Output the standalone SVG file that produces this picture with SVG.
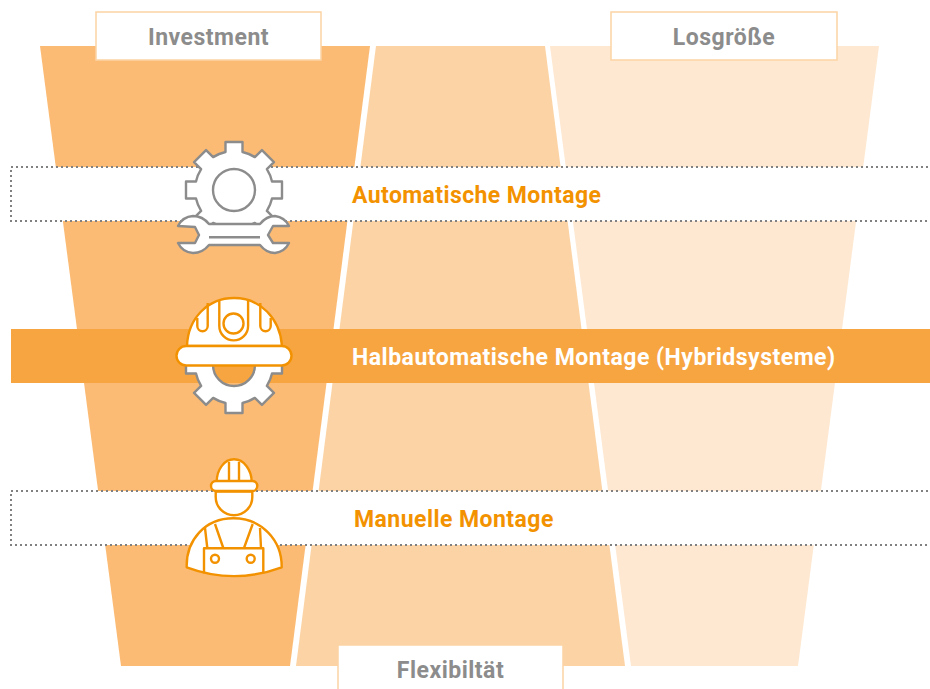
<svg xmlns="http://www.w3.org/2000/svg" width="930" height="689" viewBox="0 0 930 689">
<style>
.lab{font-family:"Roboto","Liberation Sans",sans-serif;font-weight:700;font-size:23px;letter-spacing:.5px}
.g{fill:#8c8c8c}
.o{fill:#f39200}
.w{fill:#fff}
.band{fill:#fff}
.dots{fill:none;stroke:#808080;stroke-width:2;stroke-dasharray:2 3}
.box{fill:#fff;stroke:#fcd3a4;stroke-width:1.500}
.gs{fill:#fff;stroke:#8c8c8c;stroke-width:2.400;stroke-linejoin:round}
.os{fill:#fff;stroke:#f39200;stroke-width:2.400;stroke-linejoin:round}
.ol{fill:none;stroke:#f39200;stroke-width:2.400;stroke-linejoin:round}
</style>
<defs>
<path id="gear" fill-rule="evenodd" d="M-8.500-38V-48H8.500V-38A38.900 38.900 0 0 1 20.860-32.880L27.930-39.950 39.950-27.930 32.880-20.860A38.900 38.900 0 0 1 38-8.500H48V8.500H38A38.900 38.900 0 0 1 32.880 20.860L39.950 27.930 27.930 39.950 20.860 32.880A38.900 38.900 0 0 1 8.500 38V48H-8.500V38A38.900 38.900 0 0 1-20.860 32.880L-27.930 39.950-39.950 27.930-32.880 20.860A38.900 38.900 0 0 1-38 8.500H-48V-8.500H-38A38.900 38.900 0 0 1-32.880-20.860L-39.950-27.930-27.930-39.950-20.860-32.880A38.900 38.900 0 0 1-8.500-38ZM-21 0A21 21 0 1 0 21 0 21 21 0 1 0-21 0Z"/>
</defs>
<g id="columns">
<polygon points="40,46 370,46 290,666 121,666" fill="#fbbb74"/>
<polygon points="376,46 545,46 625,666 296,666" fill="#fcd3a4"/>
<polygon points="550,46 879,46 798,666 631,666" fill="#fee8d1"/>
</g>
<g id="node-investment"><rect class="box" x="96" y="12" width="225" height="48"/><text class="lab g" x="208.500" y="45" text-anchor="middle">Investment</text></g>
<g id="node-losgroesse"><rect class="box" x="611" y="12" width="226" height="48"/><text class="lab g" x="724" y="45" text-anchor="middle">Losgröße</text></g>
<g id="node-flexibilitaet"><rect class="box" x="338" y="645" width="225" height="50"/><text class="lab g" x="450.500" y="678" text-anchor="middle">Flexibiltät</text></g>
<g id="node-automatisch">
<rect class="band" x="11" y="167" width="919" height="54"/>
<path class="dots" d="M928 167H11V221H928"/>
<text class="lab o" x="352" y="203" style="letter-spacing:.4px">Automatische Montage</text>
<use href="#gear" class="gs" x="234" y="190"/>
<path class="gs" d="M178 226A18 18 0 0 1 193 216C200 216 205 219 209 224H260C264 219 269 216 275 216A18 18 0 0 1 289 226H273L268 235 273 243H289A18 18 0 0 1 275 253C269 253 264 250 260 245H209C205 250 200 253 193 253A18 18 0 0 1 178 243H195L199 235 195 227Z"/>
<rect class="g" x="209" y="236" width="51" height="2.500"/>
</g>
<g id="node-halbautomatisch">
<rect x="11" y="329" width="919" height="54" fill="#f7a540"/>
<text class="lab w" x="352" y="365" style="letter-spacing:.5px">Halbautomatische Montage (Hybridsysteme)</text>
<use href="#gear" class="gs" x="234" y="365"/>
<path class="os" d="M187 346C188 318 208 298 234 298S280 318 282 346Z"/>
<path class="ol" d="M207.700 303V326A5.200 5.200 0 0 1 197.300 326V318M260.300 303V326A5.200 5.200 0 0 0 270.700 326V318M219.300 301V326A14.400 14.400 0 0 0 248.100 326V301"/>
<circle class="ol" cx="233.500" cy="323.500" r="10"/>
<rect class="os" x="176.500" y="346" width="115" height="19.500" rx="9.700"/>
</g>
<g id="node-manuell">
<rect class="band" x="11" y="491" width="919" height="54"/>
<path class="dots" d="M928 491H11V545H928"/>
<text class="lab o" x="354" y="527" style="letter-spacing:.45px">Manuelle Montage</text>
<path class="os" d="M186.700 567.300C186 540 205 518.300 233.300 518.300S282 540 281.700 567.300C250 579 218 579 186.700 567.300Z"/>
<path class="ol" d="M205 528L207.300 548M215 524L223.300 548M252.700 524L244 548M260 528L261 548"/>
<path class="ol" d="M204 573.500V548.300H263.300V573.500"/>
<circle class="ol" cx="215" cy="558.700" r="4"/>
<circle class="ol" cx="250.700" cy="558.700" r="4"/>
<path class="os" d="M215.700 491.500V497A18.300 18.300 0 0 0 252.300 497V491.500Z"/>
<path class="os" d="M216.700 482C216.700 470 224 459.300 234 459.300S251.700 470 251.700 482Z"/>
<path class="ol" d="M229 462V481M239 462V481"/>
<rect class="os" x="211" y="481" width="46.300" height="10" rx="5"/>
</g>
</svg>
